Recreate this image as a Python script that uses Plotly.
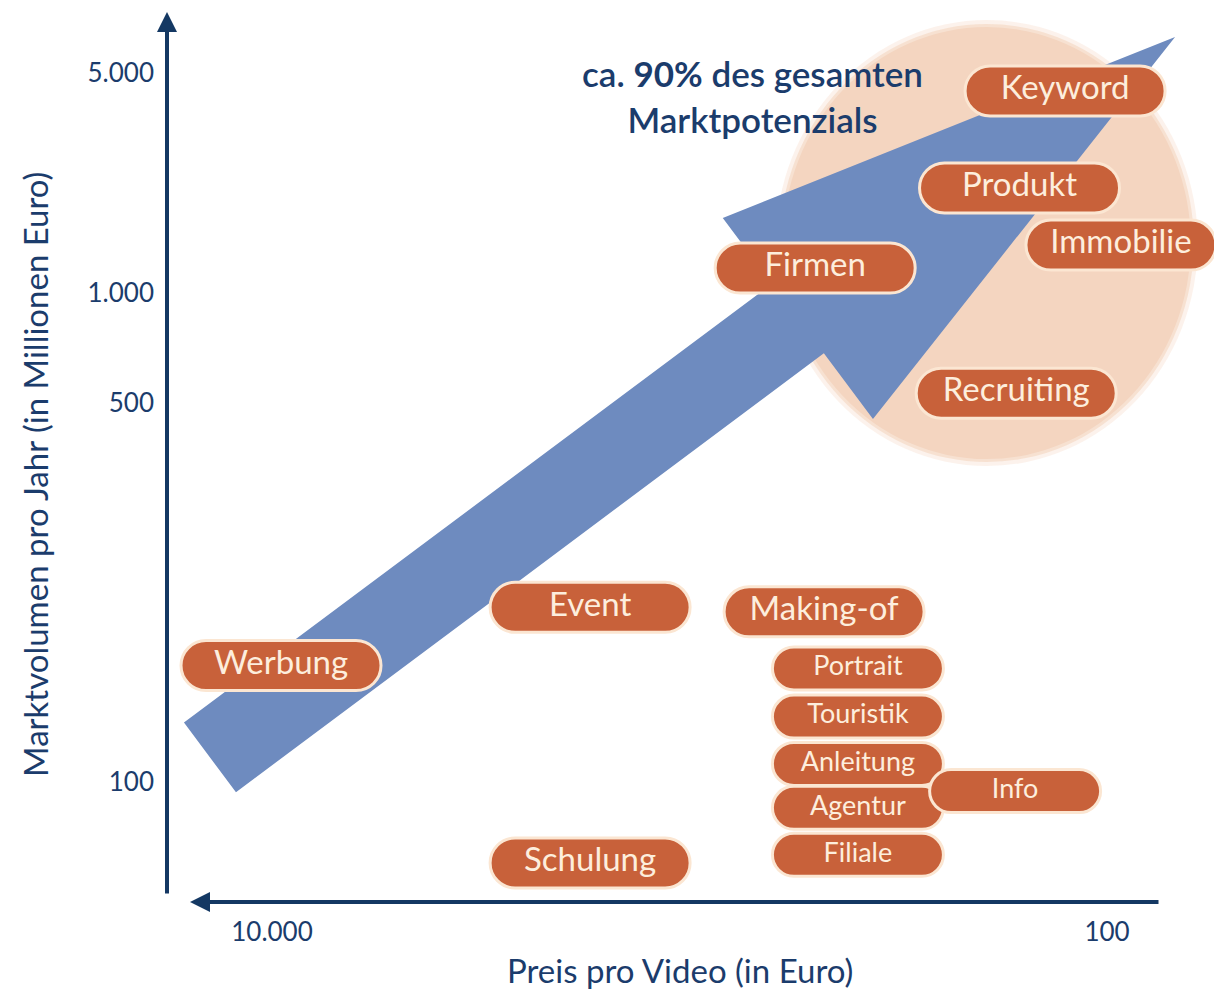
import numpy as np
import plotly.graph_objects as go

# ---------------- data ----------------
SEGMENTS = ["Keyword", "Produkt", "Immobilie", "Firmen", "Recruiting", "Event",
            "Making-of", "Werbung", "Portrait", "Touristik", "Anleitung", "Agentur",
            "Info", "Filiale", "Schulung"]
PRICE_EUR = [126, 162, 92.6, 500, 165, 1730, 476, 9515, 395, 395, 395, 395, 166, 395, 1730]
VOLUME_MIO = [4385, 2157, 1420, 1200, 532, 210, 206, 164, 162, 132, 108, 89.6, 96.2, 73.4, 70.9]
SMALL_SEGMENTS = ["Portrait", "Touristik", "Anleitung", "Agentur", "Info", "Filiale"]

X_TICK_VALUES = [10000, 100]
X_TICK_LABELS = ["10.000", "100"]
Y_TICK_VALUES = [100, 500, 1000, 5000]
Y_TICK_LABELS = ["100", "500", "1.000", "5.000"]

TREND_START = (14080, 111)     # (price, volume) tail of the big arrow
TREND_END = (68.7, 6510)       # (price, volume) tip of the big arrow
FOCUS_CENTER = (194, 1441)     # (price, volume) centre of the highlighted zone

NOTE_TEXT = "ca. <b>90%</b> des gesamten<br>Marktpotenzials"
X_TITLE = "Preis pro Video (in Euro)"
Y_TITLE = "Marktvolumen pro Jahr (in Millionen Euro)"

# ---------------- layout / style ----------------
W, H = 1214, 990
M_L, M_R, M_T, M_B = 167, 0, 0, 88
PLOT_W, PLOT_H = W - M_L - M_R, H - M_T - M_B
X_RANGE = [4.2515, 1.7437]                 # log10(price), reversed
Y_TICK_POSITIONS = [1.20, 4.99, 6.09, 8.29]  # non-uniform value axis
Y_RANGE = [0, 9.02]
PX_X = PLOT_W / (X_RANGE[0] - X_RANGE[1])
PX_Y = PLOT_H / (Y_RANGE[1] - Y_RANGE[0])

NAVY = "#1B3C6C"
AXIS = "#143863"
PILL = "#C8613A"
PILL_EDGE = "#FBE6D2"
PILL_TEXT = "#FDEEDD"
ARROW_BLUE = "#6E8BBF"
PEACH = "#F4D5C0"
FONT = "Lato"

LOGT = np.log10(Y_TICK_VALUES)
POS = np.array(Y_TICK_POSITIONS)


def xpos(price):
    return float(np.log10(price))


def ypos(vol):
    lv = float(np.log10(vol))
    if lv <= LOGT[0]:
        s = (POS[1] - POS[0]) / (LOGT[1] - LOGT[0])
        return float(POS[0] + (lv - LOGT[0]) * s)
    if lv >= LOGT[-1]:
        s = (POS[-1] - POS[-2]) / (LOGT[-1] - LOGT[-2])
        return float(POS[-1] + (lv - LOGT[-1]) * s)
    return float(np.interp(lv, LOGT, POS))


def capsule(hw, hh):
    r = hh
    k = 0.5523 * r
    a = hw - r
    return (f"M {-a},{hh} L {a},{hh} C {a + k},{hh} {hw},{k} {hw},0 "
            f"C {hw},{-k} {a + k},{-hh} {a},{-hh} L {-a},{-hh} "
            f"C {-a - k},{-hh} {-hw},{-k} {-hw},0 C {-hw},{k} {-a - k},{hh} {-a},{hh} Z")


shapes = []

# highlighted zone (soft edge + core)
fx, fy = xpos(FOCUS_CENTER[0]), ypos(FOCUS_CENTER[1])
for grow, op in [(7, 0.3), (3, 0.6), (0, 1.0)]:
    shapes.append(dict(type="circle", xref="x", yref="y", xsizemode="pixel", ysizemode="pixel",
                       xanchor=fx, yanchor=fy, x0=-204 - grow, x1=204 + grow,
                       y0=-216 - grow, y1=216 + grow, fillcolor=PEACH, opacity=op,
                       line=dict(width=0), layer="below"))

# big trend arrow
tx, ty = xpos(TREND_START[0]), ypos(TREND_START[1])
ex, ey = xpos(TREND_END[0]), ypos(TREND_END[1])
dx = (tx - ex) * PX_X           # reversed x axis: smaller value -> further right
dy = (ey - ty) * PX_Y
L = np.hypot(dx, dy)
ux, uy = dx / L, dy / L
nx, ny = -uy, ux
SHAFT_HW, HEAD_HW, HEAD_LEN = 43.4, 125.5, 470.7
base = L - HEAD_LEN
pts = [(0, SHAFT_HW), (base, SHAFT_HW), (base, HEAD_HW), (L, 0),
       (base, -HEAD_HW), (base, -SHAFT_HW), (0, -SHAFT_HW)]
path = "M " + " L ".join(f"{t * ux + s * nx:.1f},{t * uy + s * ny:.1f}" for t, s in pts) + " Z"
shapes.append(dict(type="path", xref="x", yref="y", xsizemode="pixel", ysizemode="pixel",
                   xanchor=tx, yanchor=ty, path=path, fillcolor=ARROW_BLUE,
                   line=dict(width=0), layer="below"))

# pills
WIDTH_OVERRIDE = {"Immobilie": 95}
for name, p, v in zip(SEGMENTS, PRICE_EUR, VOLUME_MIO):
    small = name in SMALL_SEGMENTS
    hw = 85.5 if small else WIDTH_OVERRIDE.get(name, 100)
    hh = 21.5 if small else 25
    shapes.append(dict(type="path", xref="x", yref="y", xsizemode="pixel", ysizemode="pixel",
                       xanchor=xpos(p), yanchor=ypos(v), path=capsule(hw, hh),
                       fillcolor=PILL, line=dict(color=PILL_EDGE, width=3), layer="below"))

fig = go.Figure()
fig.add_trace(go.Scatter(
    x=[xpos(p) for p in PRICE_EUR], y=[ypos(v) for v in VOLUME_MIO],
    mode="text", text=SEGMENTS, textposition="middle center",
    textfont=dict(family=FONT, color=PILL_TEXT,
                  size=[27 if n in SMALL_SEGMENTS else 33 for n in SEGMENTS]),
    hoverinfo="skip", cliponaxis=False, showlegend=False))

annotations = [
    # axis arrows
    dict(xref="paper", yref="paper", x=0, y=(PLOT_H - 12) / PLOT_H, ax=0, ay=PLOT_H - 19,
         text="", showarrow=True, arrowhead=2, arrowsize=1, arrowwidth=4, arrowcolor=AXIS),
    dict(xref="paper", yref="paper", x=23 / PLOT_W, y=0, ax=970, ay=0,
         text="", showarrow=True, arrowhead=2, arrowsize=1, arrowwidth=4, arrowcolor=AXIS),
    # note
    dict(xref="paper", yref="paper", x=(752 - M_L) / PLOT_W, y=(PLOT_H - 96) / PLOT_H,
         xanchor="center", yanchor="middle", text=NOTE_TEXT, showarrow=False, align="center",
         font=dict(family=FONT, size=35, color=NAVY, weight=600)),
    # axis titles
    dict(xref="paper", yref="paper", x=(680 - M_L) / PLOT_W, y=(PLOT_H - 970) / PLOT_H,
         xanchor="center", yanchor="middle",
         text=X_TITLE, showarrow=False, font=dict(family=FONT, size=33, color=NAVY)),
    dict(xref="paper", yref="paper", x=(35 - M_L) / PLOT_W, y=(PLOT_H - 475) / PLOT_H,
         xanchor="center", yanchor="middle",
         text=Y_TITLE, textangle=-90, showarrow=False,
         font=dict(family=FONT, size=33, color=NAVY)),
]

fig.update_layout(
    width=W, height=H, margin=dict(l=M_L, r=M_R, t=M_T, b=M_B, pad=0),
    paper_bgcolor="white", plot_bgcolor="white",
    shapes=shapes, annotations=annotations, showlegend=False,
    xaxis=dict(range=X_RANGE, tickvals=[xpos(v) for v in X_TICK_VALUES], ticktext=X_TICK_LABELS,
               showgrid=False, zeroline=False, showline=False, ticks="", ticklen=0,
               ticklabelstandoff=12, tickfont=dict(family=FONT, size=26, color=NAVY),
               fixedrange=True),
    yaxis=dict(range=Y_RANGE, tickvals=Y_TICK_POSITIONS, ticktext=Y_TICK_LABELS,
               showgrid=False, zeroline=False, showline=False, ticks="", ticklen=0,
               ticklabelstandoff=12, tickfont=dict(family=FONT, size=26, color=NAVY),
               fixedrange=True),
)

fig.write_html("out.html", config={"displayModeBar": False},
               post_script="document.body.style.margin='0';document.body.style.overflow='hidden';")
